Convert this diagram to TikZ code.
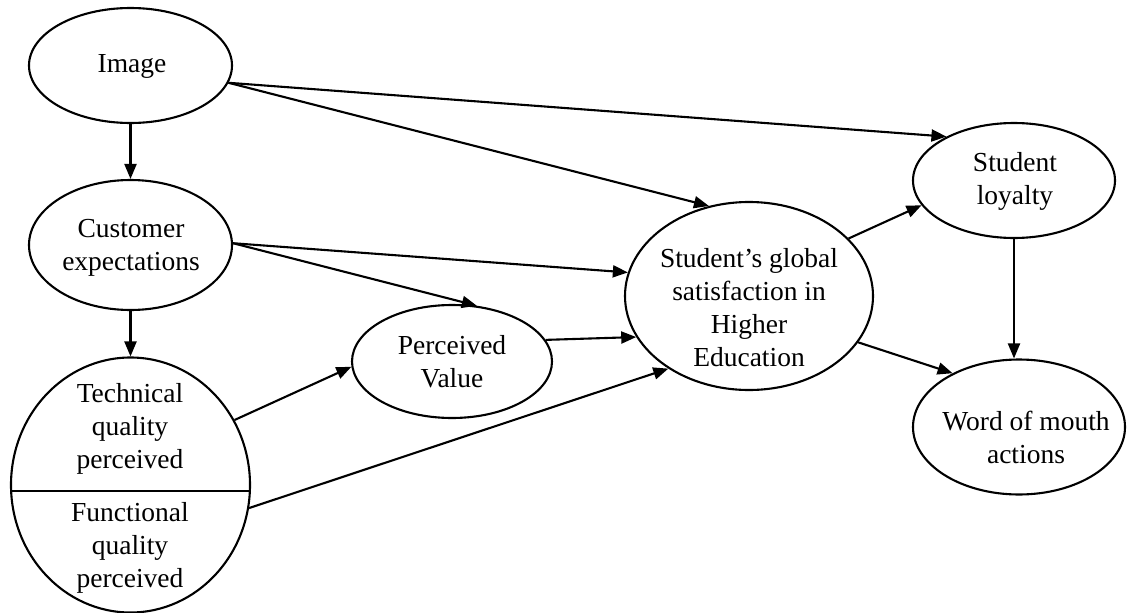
\documentclass[tikz,border=0pt]{standalone}
\usepackage{fontspec}
\setmainfont{Liberation Serif}
\usetikzlibrary{shapes.geometric,arrows.meta}
\begin{document}
\begin{tikzpicture}[x=1pt,y=-1pt,
  construct/.style={ellipse,draw,line width=2.1pt,inner sep=0pt},
  caption/.style={align=center,inner sep=0pt,font=\fontsize{27.5}{33}\selectfont},
  link/.style={line width=2.1pt,-{Triangle[length=15pt,width=12pt]}}]
\useasboundingbox (0,0) rectangle (1130,613);

% constructs of the model
\node[construct,minimum width=203pt,minimum height=115pt] (img)  at (130.5,65.5) {};
\node[construct,minimum width=203pt,minimum height=130pt] (cust) at (130.5,245) {};
\node[construct,minimum width=239pt,minimum height=255pt] (tf)   at (130.5,485) {};
\node[construct,minimum width=200pt,minimum height=113pt] (pv)   at (452,361.5) {};
\node[construct,minimum width=248pt,minimum height=188pt] (sg)   at (749,296) {};
\node[construct,minimum width=202pt,minimum height=115pt] (sl)   at (1014,180.5) {};
\node[construct,minimum width=212pt,minimum height=135pt] (wom)  at (1019,427) {};

% divider between the two quality dimensions
\draw[line width=2.1pt] (tf.183.36) -- (tf.-3.36);

% labels
\node[caption] (imgt)  at (132,66)   {Image};
\node[caption] (custt) at (131,248)  {Customer\\expectations};
\node[caption] (tech)  at (130,429)  {Technical\\quality\\perceived};
\node[caption] (func)  at (130,548)  {Functional\\quality\\perceived};
\node[caption] (pvt)   at (452,362)  {Perceived\\Value};
\node[caption] (sgt)   at (749,308)  {Student’s global\\satisfaction in\\Higher\\Education};
\node[caption] (slt)   at (1015,181) {Student\\loyalty};
\node[caption] (womt)  at (1026,437) {Word of mouth\\actions};

% relations
\draw[link] (img.south) -- (cust.north);
\draw[link] (cust.south) -- (tf.north);
\draw[link] (img.-10) -- (sl.147);
\draw[link] (img.-10) -- (sg.114);
\draw[link] (cust.1) -- (sg.169.5);
\draw[link] (cust.1) -- (pv.66);
\draw[link] (tf.32.8) -- (pv.183.7);
\draw[link] (tf.-11.9) -- (sg.222.4);
\draw[link] (pv.13.9) -- (sg.200.7);
\draw[link] (sg.30.8) -- (sl.195);
\draw[link] (sg.-23.4) -- (wom.141);
\draw[link] (sl.south) -- (sl.south |- wom.north);
\end{tikzpicture}
\end{document}
